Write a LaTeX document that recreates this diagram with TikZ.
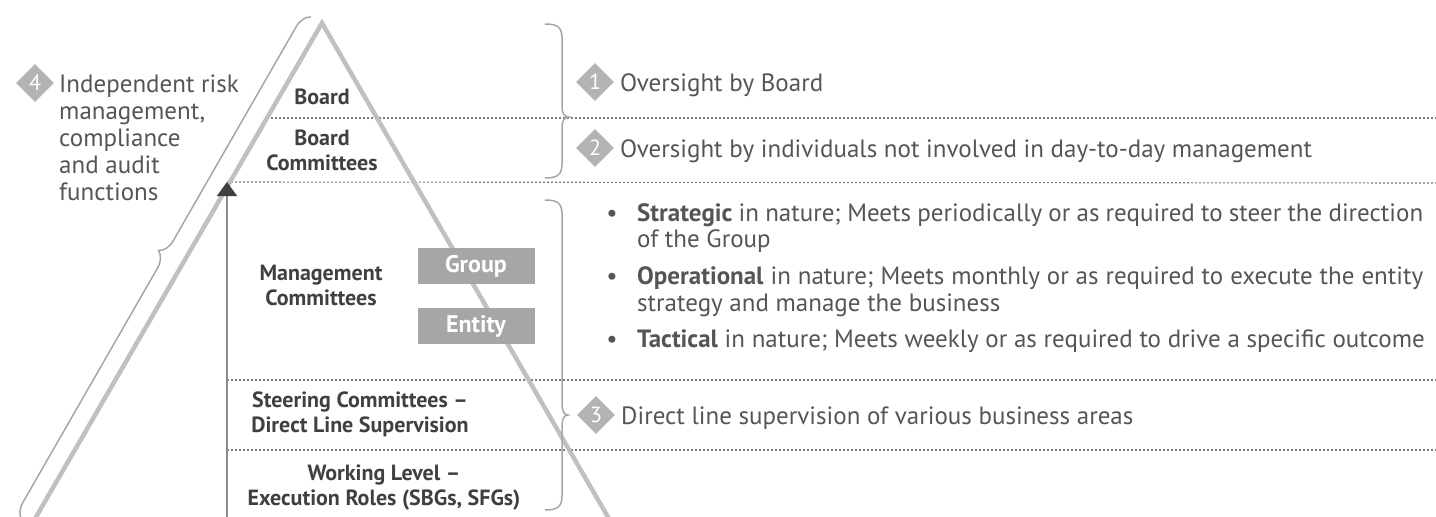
\documentclass[tikz,border=0pt]{standalone}
\usepackage{fontspec}
\setmainfont{PT Sans}
\usetikzlibrary{decorations.pathreplacing,shapes.geometric,arrows.meta}
\definecolor{cTri}{HTML}{C0C0C0}
\definecolor{cBrace}{HTML}{A6A6A6}
\definecolor{cTxt}{HTML}{555555}
\definecolor{cBold}{HTML}{404040}
\definecolor{cDot}{HTML}{7A7A7A}
\definecolor{cBox}{HTML}{A6A6A6}
\definecolor{cDia}{HTML}{B3B3B3}
\definecolor{cShaft}{HTML}{8C8C8C}
\begin{document}
\begin{tikzpicture}[x=1pt,y=-1pt,
  tristyle/.style={draw=cTri,line width=4.5pt,line join=miter},
  bracestyle/.style={draw=cBrace,line width=1.5pt},
  dotline/.style={draw=cDot,line width=1.1pt,dash pattern=on 2pt off 2pt},
  lvl/.style={font=\fontsize{22}{25}\selectfont\bfseries,text=cBold,align=center,inner sep=0pt},
  rtxt/.style={font=\fontsize{25}{27}\selectfont,text=cTxt,inner sep=0pt,anchor=west,text height=18pt,text depth=0pt},
  num/.style={diamond,fill=cDia,minimum size=38pt,inner sep=0pt,text=white,font=\fontsize{22}{22}\selectfont},
  gbox/.style={fill=cBox,minimum width=117pt,minimum height=36pt,inner sep=0pt,text=white,font=\fontsize{24}{24}\selectfont\bfseries},
]
\clip (0,0) rectangle (1436,517);
% reference coordinates
\coordinate (apex) at (322,23);
\coordinate (triL) at (28.5,530);
\coordinate (triR) at (615.5,530);
\coordinate (atip) at (227,182);
\coordinate (abot) at (227,520);
\coordinate (d1a) at (267,118);  \coordinate (d1b) at (1436,118);
\coordinate (d2b) at (1436,183);
\coordinate (d3a) at (227,380);  \coordinate (d3b) at (1436,380);
\coordinate (d4a) at (227,450);  \coordinate (d4b) at (1436,450);
\coordinate (bA) at (22,520);
\coordinate (bB) at (311,17);
% dotted separators
\draw[dotline] (d1a) -- (d1b);
\draw[dotline] (atip) -- (d2b);
\draw[dotline] (d3a) -- (d3b);
\draw[dotline] (d4a) -- (d4b);
% pyramid
\draw[tristyle] (triL) -- (apex) -- (triR);
% escalation arrow
\draw[draw=cShaft,line width=1.5pt,-{Triangle[width=20pt,length=14pt,color=cBold]}] (abot) -- (atip);
% slanted brace
\draw[bracestyle,decorate,decoration={brace,amplitude=16pt,aspect=0.52}] (bA) -- (bB);
% right braces
\draw[bracestyle] (545,24) .. controls (557,24) and (562,27) .. (562,38) -- (562,106)
  .. controls (562,113) and (564,117) .. (569,117)
  .. controls (564,117) and (562,121) .. (562,128) -- (562,164)
  .. controls (562,175) and (557,178) .. (545,178);
\draw[bracestyle] (545,200) .. controls (557,200) and (562,203) .. (562,214) -- (562,404)
  .. controls (562,411) and (564,415) .. (568,415)
  .. controls (564,415) and (562,419) .. (562,426) -- (562,496)
  .. controls (562,507) and (557,510) .. (545,510);
% level labels
\node[lvl] (board) at (322,97) {Board};
\node[lvl] (boardc) at (322,150) {Board\\Committees};
\node[lvl] (mgmt) at (321,285) {Management\\Committees};
\node[lvl] (steer) at (360,414) {Steering Committees –\\Direct Line Supervision};
\node[lvl] (work) at (384,488) {Working Level –\\Execution Roles (SBGs, SFGs)};
\node[gbox] (group) at (476,266) {Group};
\node[gbox] (entity) at (476,326) {Entity};
% left annotation
\node[num] (n4) at (35,83) {4};
\node[rtxt] (l4a) at (59,83) {Independent risk};
\node[rtxt] (l4b) at (59,110) {management,};
\node[rtxt] (l4c) at (59,137) {compliance};
\node[rtxt] (l4d) at (59,164) {and audit};
\node[rtxt] (l4e) at (59,191) {functions};
% right annotations
\node[num] (n1) at (595,82) {1};
\node[rtxt] (t1) at (620,82) {Oversight by Board};
\node[num] (n2) at (595,148) {2};
\node[rtxt] (t2) at (620,148) {Oversight by individuals not involved in day-to-day management};
\node[rtxt,anchor=center] (b1) at (612,212) {•};
\node[rtxt] (s1a) at (637,212) {\makebox[786pt][s]{\textbf{Strategic} in nature; Meets periodically or as required to steer the direction}};
\node[rtxt] (s1b) at (637,238) {of the Group};
\node[rtxt,anchor=center] (b2) at (612,275) {•};
\node[rtxt] (s2a) at (637,275) {\makebox[786pt][s]{\textbf{Operational} in nature; Meets monthly or as required to execute the entity}};
\node[rtxt] (s2b) at (637,302) {strategy and manage the business};
\node[rtxt,anchor=center] (b3) at (612,338) {•};
\node[rtxt] (s3a) at (637,338) {\textbf{Tactical} in nature; Meets weekly or as required to drive a specific outcome};
\node[num] (n3) at (596,415) {3};
\node[rtxt] (t3) at (621,415) {Direct line supervision of various business areas};
\end{tikzpicture}
\end{document}
